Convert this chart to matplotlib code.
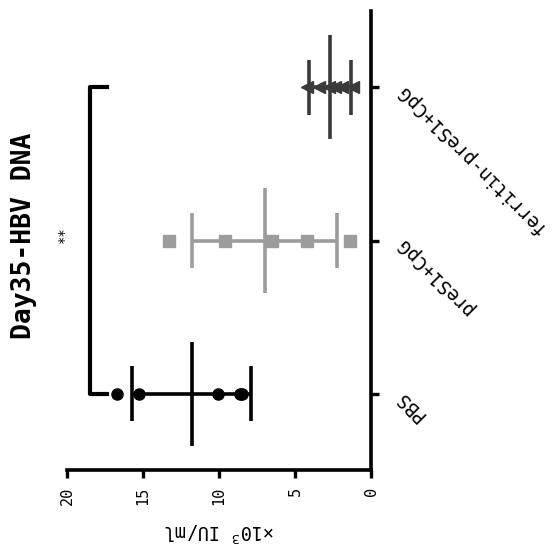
import numpy as np
import matplotlib.pyplot as plt

# chart is drawn turned a quarter turn, as in the scanned figure
groups = ['PBS', 'preS1+CpG', 'ferritin-preS1+CpG']
pbs = [16.7, 15.3, 10.1, 8.6, 8.5]
pres1 = [13.3, 9.6, 6.5, 4.2, 1.4]
ferritin = [4.2, 3.4, 2.8, 2.4, 1.9, 1.2]
means = [11.8, 7.0, 2.7]
sds = [3.9, 4.75, 1.4]
value_ticks = [0, 5, 10, 15, 20]

plt.rcParams['font.family'] = 'DejaVu Sans Mono'

fig = plt.figure(figsize=(5.54, 5.46), dpi=100)
ax = fig.add_axes([0.121, 0.139, 0.549, 0.841])

colors = ['black', '#9c9c9c', '#3a3a3a']
markers = ['o', 's', '<']
points = [pbs, pres1, ferritin]

for i in range(3):
    c = colors[i]
    ax.plot(points[i], [i] * len(points[i]), markers[i], color=c, ms=8, zorder=3)
    m, s = means[i], sds[i]
    ax.hlines(i, m - s, m + s, color=c, lw=2.6, zorder=2)
    ax.vlines([m - s, m + s], i - 0.18, i + 0.18, color=c, lw=2.6, zorder=2)
    ax.vlines(m, i - 0.34, i + 0.34, color=c, lw=2.6, zorder=2)

# significance bracket PBS vs ferritin-preS1+CpG
ax.plot([17.4, 18.5, 18.5, 17.4], [0, 0, 2, 2], color='black', lw=3, clip_on=False)
ax.text(20.2, 1.04, '**', rotation=90, ha='center', va='center', fontsize=10, clip_on=False)

ax.set_xlim(20, 0)
ax.set_ylim(-0.5, 2.5)

ax.spines['top'].set_visible(False)
ax.spines['left'].set_visible(False)
ax.spines['bottom'].set_linewidth(2.6)
ax.spines['right'].set_linewidth(2.6)

ax.set_xticks(value_ticks)
ax.set_xticklabels([str(v) for v in value_ticks], rotation=90, fontsize=11)
ax.tick_params(axis='x', direction='out', length=6, width=2.4, pad=6)

ax.yaxis.tick_right()
ax.set_yticks(range(3))
ax.set_yticklabels(groups, fontsize=13.5, rotation=135, rotation_mode='anchor',
                   ha='right', va='center')
ax.tick_params(axis='y', direction='out', length=6, width=2.4, pad=14)

ax.set_xlabel('×10$^3$ IU/ml', rotation=180, fontsize=13.5, labelpad=11)
ax.text(-0.14, 0.51, 'Day35-HBV DNA', rotation=90, ha='center', va='center',
        fontsize=19, fontweight='bold', transform=ax.transAxes)

plt.savefig('out.png', dpi=100)
